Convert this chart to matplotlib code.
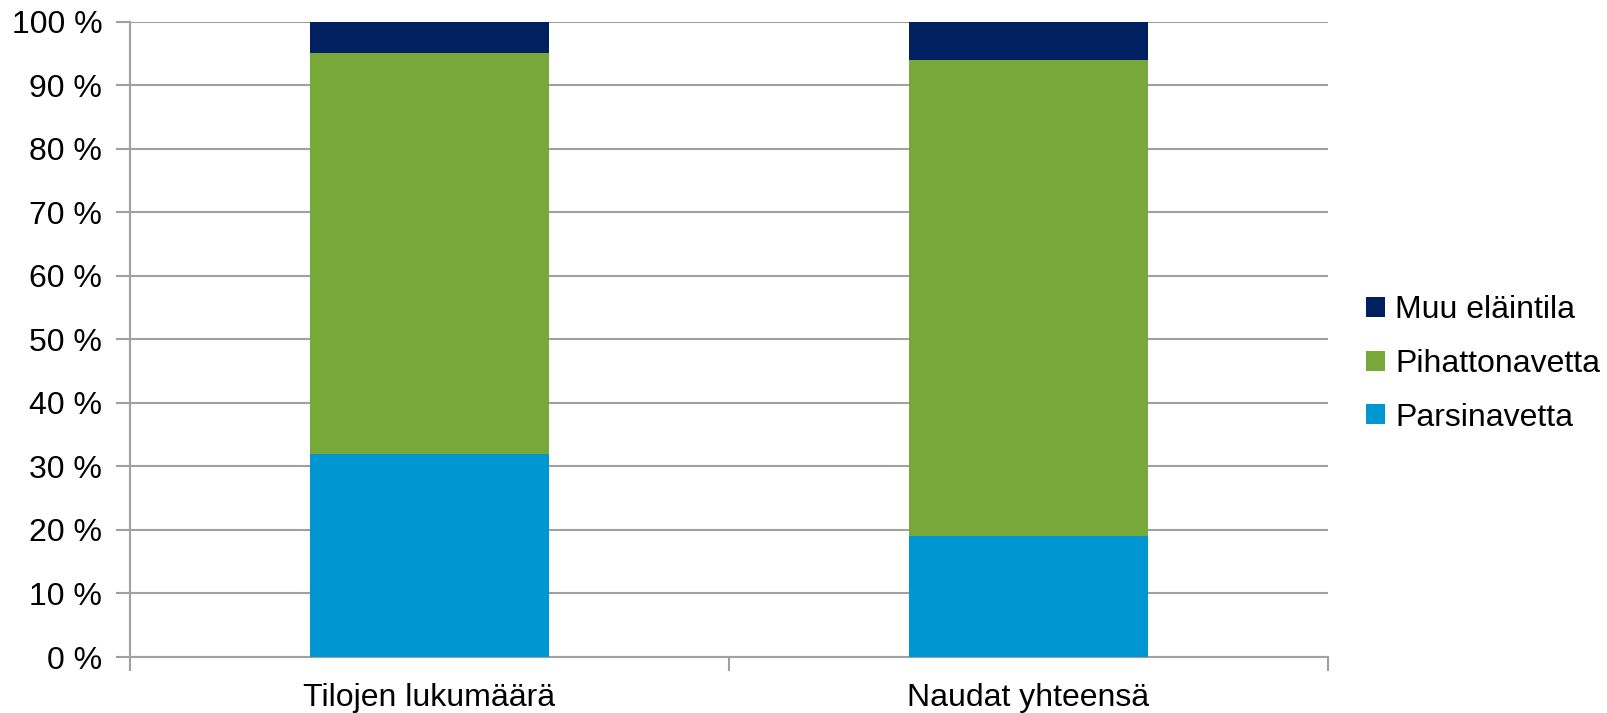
import matplotlib
matplotlib.use("Agg")
import matplotlib.pyplot as plt
import numpy as np

# ── Data ────────────────────────────────────────────────────────────────────
categories = ["Tilojen lukumäärä", "Naudat yhteensä"]
parsinavetta = [32, 19]
pihattonavetta = [63, 75]
muu_elaintila = [5, 6]

C_PARSI = "#0096D2"
C_PIHATTO = "#78A83A"
C_MUU = "#002060"
C_GRID = "#A0A0A0"
FS = 23

plt.rcParams["font.family"] = ["Liberation Sans", "DejaVu Sans"]

fig = plt.figure(figsize=(16.08, 7.13), dpi=100)
ax = fig.add_axes([0.0808, 0.0785, 0.7451, 0.8913])

x = np.arange(len(categories))
w = 0.4
b1 = ax.bar(x, parsinavetta, w, color=C_PARSI, label="Parsinavetta", zorder=3)
b2 = ax.bar(x, pihattonavetta, w, bottom=parsinavetta, color=C_PIHATTO,
            label="Pihattonavetta", zorder=3)
bottom3 = np.array(parsinavetta) + np.array(pihattonavetta)
b3 = ax.bar(x, muu_elaintila, w, bottom=bottom3, color=C_MUU,
            label="Muu eläintila", zorder=3)

ax.set_xlim(-0.5, len(categories) - 0.5)
ax.set_ylim(0, 100)
ax.set_yticks(range(0, 101, 10))
ax.set_yticklabels([f"{v} %" for v in range(0, 101, 10)], fontsize=FS)
ax.yaxis.grid(True, color=C_GRID, lw=1.5, zorder=0)
ax.set_axisbelow(True)

# category ticks on boundaries, labels at centres
ax.set_xticks([-0.5, 0.5, 1.5])
ax.set_xticklabels([])
ax.set_xticks(x, minor=True)
ax.set_xticklabels(categories, minor=True, fontsize=FS)
ax.tick_params(axis="x", which="minor", length=0, pad=19)
ax.tick_params(axis="x", which="major", length=10, width=1.5, color=C_GRID)
ax.tick_params(axis="y", length=10, width=1.5, color=C_GRID, pad=10)

for s in ["top", "right"]:
    ax.spines[s].set_visible(False)
for s in ["left", "bottom"]:
    ax.spines[s].set_color(C_GRID)
    ax.spines[s].set_linewidth(1.5)

ax.legend(handles=[b3, b2, b1], loc="center left", bbox_to_anchor=(1.021, 0.461),
          frameon=False, fontsize=FS, handlelength=0.58, handleheight=0.58,
          handletextpad=0.33, labelspacing=0.74, borderaxespad=0)

fig.savefig("out.png", dpi=100, facecolor="white")
